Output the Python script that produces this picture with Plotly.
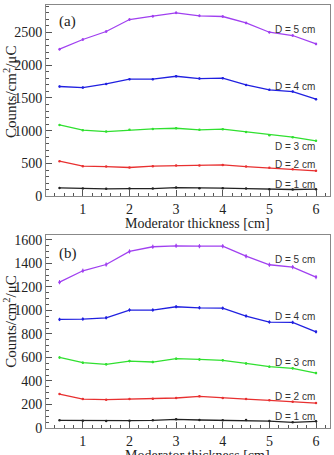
import plotly.graph_objects as go

thickness = [0.5, 1, 1.5, 2, 2.5, 3, 3.5, 4, 4.5, 5, 5.5, 6]
labels = ["D = 1 cm", "D = 2 cm", "D = 3 cm", "D = 4 cm", "D = 5 cm"]
colors = ["#222222", "#e83030", "#30e030", "#2020e0", "#a040f0"]

# panel (a)
a_d1 = [127, 117, 112, 117, 117, 132, 122, 122, 117, 107, 102, 107]
a_d2 = [534, 458, 453, 438, 458, 468, 468, 478, 453, 433, 412, 387]
a_d3 = [1089, 1008, 987, 1013, 1028, 1038, 1013, 1023, 982, 931, 901, 845]
a_d4 = [1675, 1659, 1715, 1787, 1787, 1832, 1797, 1802, 1700, 1624, 1598, 1481]
a_d5 = [2245, 2393, 2515, 2698, 2749, 2800, 2754, 2744, 2647, 2504, 2454, 2326]
a_err = [3, 6, 10, 15, 20]
a_label_y = [183, 478, 753, 1680, 2545]

# panel (b)
b_d1 = [65, 62, 59, 62, 65, 74, 68, 65, 68, 59, 48, 57]
b_d2 = [289, 246, 241, 246, 249, 255, 269, 255, 246, 235, 224, 212]
b_d3 = [600, 555, 541, 569, 561, 589, 583, 575, 549, 521, 507, 467]
b_d4 = [923, 926, 937, 1003, 1003, 1031, 1022, 1019, 952, 901, 898, 818]
b_d5 = [1240, 1337, 1390, 1501, 1541, 1549, 1546, 1546, 1461, 1388, 1368, 1283]
b_err = [3, 6, 10, 14, 18]
b_label_y = [99, 269, 561, 949, 1430]

x_title = "Moderator thickness [cm]"
y_title = "Counts/cm<sup>2</sup>/μC"

fig = go.Figure()
serif = "Liberation Serif, Times New Roman, serif"

for series_list, errs, yref, xref in [
    ([a_d1, a_d2, a_d3, a_d4, a_d5], a_err, "y", "x"),
    ([b_d1, b_d2, b_d3, b_d4, b_d5], b_err, "y2", "x2"),
]:
    for vals, err, col in zip(series_list, errs, colors):
        fig.add_trace(go.Scatter(
            x=thickness, y=vals, mode="lines+markers",
            line=dict(color=col, width=1.3),
            marker=dict(color=col, size=2.5),
            error_y=dict(type="constant", value=err, color=col, thickness=1, width=0),
            xaxis=xref, yaxis=yref, showlegend=False,
        ))

for lab, ya, yb in zip(labels, a_label_y, b_label_y):
    fig.add_annotation(x=6.03, y=ya, xref="x", yref="y", text=lab, showarrow=False,
                       xanchor="right", yanchor="middle",
                       font=dict(family="Liberation Sans, Arial", size=10, color="#333"))
    fig.add_annotation(x=6.03, y=yb, xref="x2", yref="y2", text=lab, showarrow=False,
                       xanchor="right", yanchor="middle",
                       font=dict(family="Liberation Sans, Arial", size=10, color="#333"))

fig.add_annotation(x=0.04, y=0.985, xref="paper", yref="paper", text="(a)", showarrow=False,
                   xanchor="left", yanchor="top", font=dict(family=serif, size=15, color="#222"))
fig.add_annotation(x=0.04, y=0.438, xref="paper", yref="paper", text="(b)", showarrow=False,
                   xanchor="left", yanchor="top", font=dict(family=serif, size=15, color="#222"))

# axis titles as annotations
for ty in [0.484, -0.066]:
    fig.add_annotation(x=0.535, y=ty, xref="paper", yref="paper", text=x_title, showarrow=False,
                       xanchor="center", yanchor="middle",
                       font=dict(family=serif, size=14, color="#222"))
for ty in [0.794, 0.251]:
    fig.add_annotation(x=-0.127, y=ty, xref="paper", yref="paper", text=y_title, showarrow=False,
                       xanchor="center", yanchor="middle", textangle=-90,
                       font=dict(family=serif, size=15, color="#222"))

xax = dict(range=[0.21, 6.30], dtick=1, ticks="inside", ticklen=6, tickcolor="#555",
           showline=True, linecolor="#888", linewidth=1, mirror=True, showgrid=False,
           zeroline=False, tickfont=dict(family=serif, size=14, color="#222"),
           automargin=False,
           minor=dict(dtick=0.2, ticks="inside", ticklen=3, tickcolor="#555"))
yax = dict(ticks="inside", ticklen=6, tickcolor="#555", showline=True, linecolor="#888",
           linewidth=1, mirror=True, showgrid=False, zeroline=False, automargin=False,
           tickfont=dict(family=serif, size=14, color="#222"))

fig.update_layout(
    width=334, height=455, margin=dict(l=46, r=4, t=5, b=27),
    paper_bgcolor="white", plot_bgcolor="white",
    xaxis=dict(xax, domain=[0, 1], anchor="y"),
    yaxis=dict(yax, domain=[0.548, 1.0], range=[0, 2920], dtick=500,
               minor=dict(dtick=100, ticks="inside", ticklen=3, tickcolor="#555"), anchor="x"),
    xaxis2=dict(xax, domain=[0, 1], anchor="y2"),
    yaxis2=dict(yax, domain=[0, 0.456], range=[0, 1640], dtick=200,
                minor=dict(dtick=50, ticks="inside", ticklen=3, tickcolor="#555"), anchor="x2"),
)

fig.write_html("out.html")
